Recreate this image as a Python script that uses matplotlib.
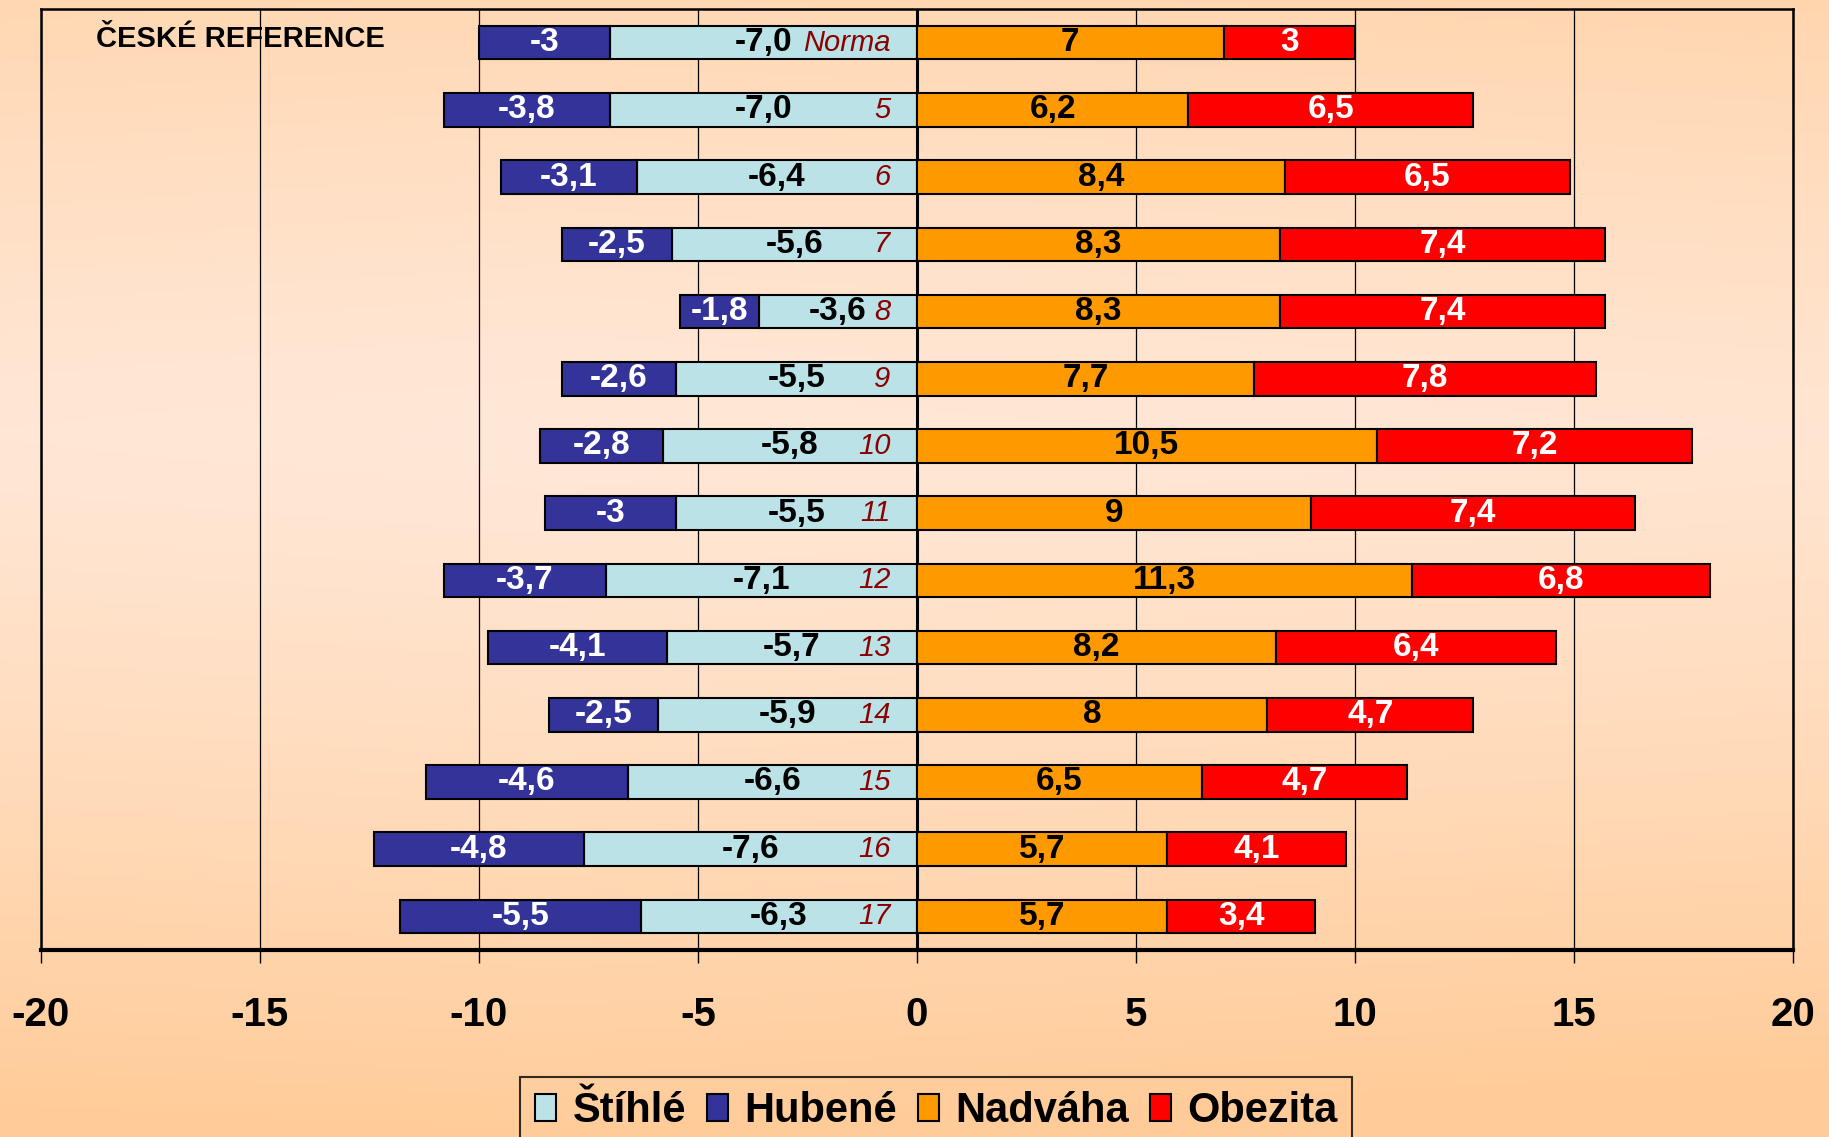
import numpy as np
import matplotlib
matplotlib.use("Agg")
import matplotlib.pyplot as plt
from matplotlib.colors import to_rgb

plt.rcParams["font.family"] = ["Liberation Sans", "DejaVu Sans"]

# data
kategorie = ["Norma", "5", "6", "7", "8", "9", "10", "11", "12", "13", "14", "15", "16", "17"]
hubene = [-3, -3.8, -3.1, -2.5, -1.8, -2.6, -2.8, -3, -3.7, -4.1, -2.5, -4.6, -4.8, -5.5]
stihle = [-7.0, -7.0, -6.4, -5.6, -3.6, -5.5, -5.8, -5.5, -7.1, -5.7, -5.9, -6.6, -7.6, -6.3]
nadvaha = [7, 6.2, 8.4, 8.3, 8.3, 7.7, 10.5, 9, 11.3, 8.2, 8, 6.5, 5.7, 5.7]
obezita = [3, 6.5, 6.5, 7.4, 7.4, 7.8, 7.2, 7.4, 6.8, 6.4, 4.7, 4.7, 4.1, 3.4]
xticks = [-20, -15, -10, -5, 0, 5, 10, 15, 20]

c_hub = "#333399"
c_sti = "#BBE2E6"
c_nad = "#FF9900"
c_obe = "#FF0000"


def fmt(v):
    return f"{v:g}".replace(".", ",")


def fmt1(v):
    return f"{v:.1f}".replace(".", ",")


fig = plt.figure(figsize=(18.29, 11.37), dpi=100)

# background gradient
bg = fig.add_axes([0, 0, 1, 1], zorder=-10)
h, w = 300, 480
yy, xx = np.mgrid[0:h, 0:w]
d = np.clip(np.abs(yy / h - 0.38) / 0.62, 0, 1) ** 1.2
d = np.clip(d + 0.15 * np.abs(xx / w - 0.3), 0, 1)
light = np.array(to_rgb("#FFE8D8"))
dark = np.array(to_rgb("#FFCC99"))
img = light[None, None, :] * (1 - d[..., None]) + dark[None, None, :] * d[..., None]
bg.imshow(img, aspect="auto", extent=[0, 1, 0, 1])
bg.axis("off")

ax = fig.add_axes([0.0223, 0.1645, 0.9580, 0.8275])
ax.set_facecolor("none")

y = np.arange(len(kategorie))
bh = 0.5
ekw = dict(edgecolor="black", linewidth=1.5, height=bh, zorder=3)
b1 = ax.barh(y, stihle, left=0, color=c_sti, label="Štíhlé", **ekw)
b2 = ax.barh(y, hubene, left=stihle, color=c_hub, label="Hubené", **ekw)
b3 = ax.barh(y, nadvaha, left=0, color=c_nad, label="Nadváha", **ekw)
b4 = ax.barh(y, obezita, left=nadvaha, color=c_obe, label="Obezita", **ekw)

fs = 24
for i in range(len(kategorie)):
    ax.text(stihle[i] / 2, i, fmt1(stihle[i]), ha="center", va="center",
            fontsize=fs, fontweight="bold", color="black", zorder=5)
    ax.text(stihle[i] + hubene[i] / 2, i, fmt(hubene[i]), ha="center", va="center",
            fontsize=fs, fontweight="bold", color="white", zorder=5)
    ax.text(nadvaha[i] / 2, i, fmt(nadvaha[i]), ha="center", va="center",
            fontsize=fs, fontweight="bold", color="black", zorder=5)
    ax.text(nadvaha[i] + obezita[i] / 2, i, fmt(obezita[i]), ha="center", va="center",
            fontsize=fs, fontweight="bold", color="white", zorder=5)
    ax.text(-0.6, i, kategorie[i], ha="right", va="center", fontsize=21,
            fontstyle="italic", color="#8B0000", zorder=5)

ax.text(-18.75, -0.05, "ČESKÉ REFERENCE", ha="left", va="center", fontsize=21,
        fontweight="bold", color="black", zorder=5)

ax.set_xlim(-20, 20)
ax.set_ylim(len(kategorie) - 0.5, -0.5)
ax.set_xticks(xticks)
ax.set_xticklabels([str(t) for t in xticks], fontsize=29, fontweight="bold")
ax.set_yticks([])
ax.tick_params(axis="x", direction="out", length=9.5, width=1, pad=24)
for t in xticks:
    ax.axvline(t, color="black", linewidth=2.2 if t == 0 else 0.9, zorder=1)
for s in ["left", "right", "top"]:
    ax.spines[s].set_linewidth(1.8)
ax.spines["bottom"].set_linewidth(3)

leg = fig.legend(handles=[b1, b2, b3, b4], loc="upper center",
                 bbox_to_anchor=(0.512, 0.053), ncol=4,
                 prop={"weight": "bold", "size": 30}, frameon=True, fancybox=False,
                 handlelength=0.5, handleheight=0.6, handletextpad=0.4,
                 columnspacing=0.5, borderpad=0.35, borderaxespad=0)
leg.get_frame().set_facecolor("none")
leg.get_frame().set_edgecolor("black")
leg.get_frame().set_linewidth(1.5)

plt.savefig("out.png", dpi=100)
